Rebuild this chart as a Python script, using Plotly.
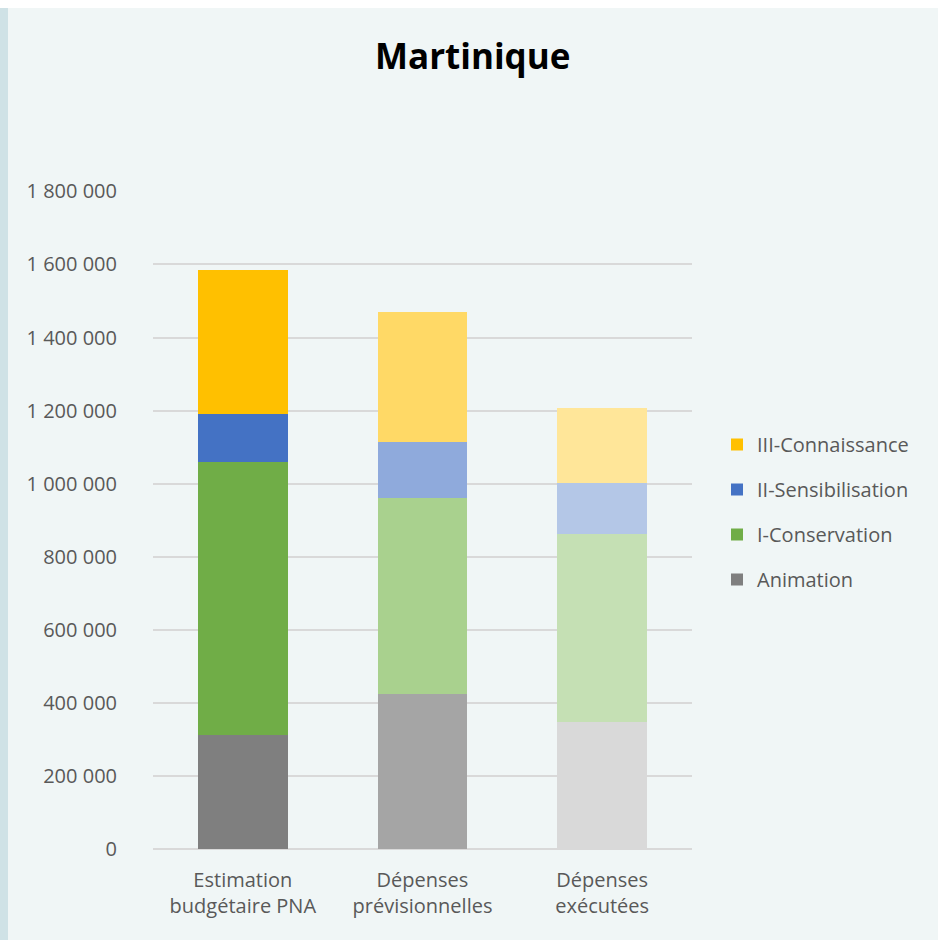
import plotly.graph_objects as go

categories = ["Estimation<br>budgétaire PNA", "Dépenses<br>prévisionnelles", "Dépenses<br>exécutées"]
series_names = ["Animation", "I-Conservation", "II-Sensibilisation", "III-Connaissance"]
animation = [312000, 424000, 347000]
conservation = [747000, 536000, 514000]
sensibilisation = [131000, 153000, 140000]
connaissance = [396000, 357000, 205000]
values = [animation, conservation, sensibilisation, connaissance]
colors = [
    ["#7F7F7F", "#A5A5A5", "#D9D9D9"],
    ["#70AD47", "#A9D18E", "#C5E0B4"],
    ["#4472C4", "#8FAADC", "#B4C7E7"],
    ["#FFC000", "#FFD966", "#FFE699"],
]
tick_vals = [0, 200000, 400000, 600000, 800000, 1000000, 1200000, 1400000, 1600000, 1800000]

FONT = "Open Sans, Liberation Sans, sans-serif"
fig = go.Figure()
for i, (name, vals, cols) in enumerate(zip(series_names, values, colors)):
    fig.add_trace(go.Bar(
        x=categories, y=vals, name=name, legendgroup=name,
        legendrank=1000 - i,
        marker=dict(color=cols, line=dict(width=0)),
        hoverinfo="y+name",
    ))

W, H = 938, 940
L, R, T, B = 153, 246, 191, 91
pw, ph = W - L - R, H - T - B

def px_x(p):
    return (p - L) / pw

def px_y(p):
    return (H - B - p) / ph

fig.update_layout(
    width=W, height=H,
    margin=dict(l=L, r=R, t=T, b=B, pad=0),
    barmode="stack", bargap=0.5,
    paper_bgcolor="#F0F6F6", plot_bgcolor="#F0F6F6",
    separators=", ",
    font=dict(family=FONT, size=20, color="#595959"),
    title=dict(text="<b>Martinique</b>", x=0.504, xref="container", xanchor="center",
               y=1 - 57 / H, yref="container", yanchor="middle",
               font=dict(family=FONT, size=35, color="#000000")),
    xaxis=dict(showgrid=False, showline=False, zeroline=False, ticks="",
               ticklabelstandoff=17,
               tickfont=dict(size=20, color="#595959")),
    yaxis=dict(range=[0, 1801000], tickvals=tick_vals, tickformat=",d",
               showgrid=True, gridcolor="#D9D9D9", gridwidth=1.5,
               zeroline=True, zerolinecolor="#D9D9D9", zerolinewidth=1.5,
               showline=False, ticks="", ticklabelstandoff=35,
               tickfont=dict(size=20, color="#595959")),
    legend=dict(traceorder="grouped", x=px_x(717), xanchor="left",
                y=px_y(425), yanchor="top", tracegroupgap=16,
                bgcolor="rgba(0,0,0,0)", font=dict(size=20, color="#595959")),
    shapes=[
        dict(type="rect", xref="paper", yref="paper", x0=px_x(-5), x1=px_x(8),
             y0=px_y(H + 5), y1=px_y(-5), fillcolor="#CFE2E6", line=dict(width=0), layer="below"),
        dict(type="rect", xref="paper", yref="paper", x0=px_x(-5), x1=px_x(W + 5),
             y0=px_y(8), y1=px_y(-5), fillcolor="#FFFFFF", line=dict(width=0), layer="below"),
    ],
    showlegend=True,
)

fig.write_html("out.html", config={"displayModeBar": False},
               post_script="document.body.style.margin='0';")
